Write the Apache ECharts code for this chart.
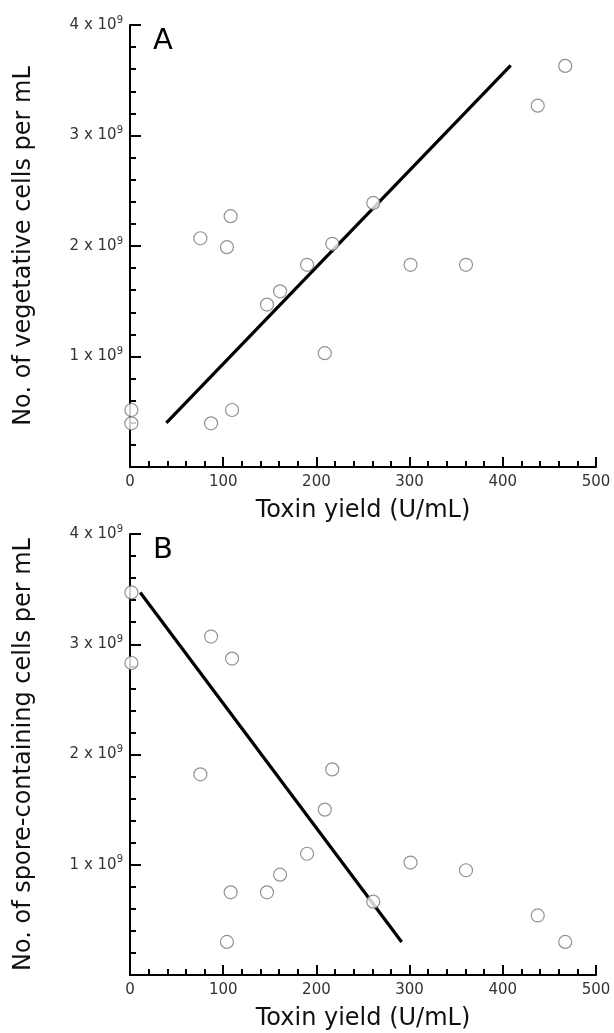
<!DOCTYPE html>
<html><head><meta charset="utf-8">
<script src="https://cdn.jsdelivr.net/npm/echarts@6/dist/echarts.min.js"></script>
<style>html,body{margin:0;padding:0;background:#fff}#c{width:614px;height:1033px}</style>
</head><body><div id="c"></div>
<script>
// Toxin yield (U/mL) per culture
const toxinYield = [1.5, 1.5, 75.5, 87, 104, 108, 109.5, 147, 161, 190, 209, 217, 261, 301, 360.5, 437.5, 467];
// Vegetative cells per mL (x 10^9)
const vegetativeCells = [0.516, 0.395, 2.07, 0.395, 1.99, 2.27, 0.516, 1.47, 1.59, 1.83, 1.03, 2.02, 2.39, 1.83, 1.83, 3.27, 3.63];
// Spore-containing cells per mL (x 10^9)
const sporeCells = [3.47, 2.83, 1.82, 3.07, 0.30, 0.75, 2.87, 0.75, 0.91, 1.10, 1.50, 1.865, 0.665, 1.02, 0.95, 0.54, 0.30];
// Regression lines (endpoints)
const fitA = [[39, 0.40], [408.5, 3.635]];
const fitB = [[11, 3.47], [291.5, 0.30]];
// Axis ticks
const xTickValues = [0, 100, 200, 300, 400, 500];
const xMinorStep = 20;
const yTickValues = [0, 1, 2, 3, 4]; // in units of 10^9; 0 unlabeled
const yMinorStep = 0.2;
const panelLetters = ['A', 'B'];
const yNames = ['No. of vegetative cells per mL', 'No. of spore-containing cells per mL'];
const xName = 'Toxin yield (U/mL)';

const FONT = 'DejaVu Sans';
const chart = echarts.init(document.getElementById('c'), null, {renderer: 'canvas'});

function pairs(ys) { return toxinYield.map((x, i) => [x, ys[i]]); }
const xMin = xTickValues[0], xMax = xTickValues[xTickValues.length - 1];
const yMin = yTickValues[0], yMax = yTickValues[yTickValues.length - 1];

function xAxis(idx) {
  return {
    type: 'value', gridIndex: idx, position: 'bottom', min: xMin, max: xMax,
    interval: xTickValues[1] - xTickValues[0],
    name: xName, nameLocation: 'middle', nameGap: 32,
    nameTextStyle: {fontFamily: FONT, fontSize: 24, color: '#111'},
    axisLine: {show: true, onZero: false, lineStyle: {color: '#000', width: 2}},
    axisTick: {show: true, inside: true, length: 10, lineStyle: {color: '#000', width: 2}},
    splitLine: {show: false},
    axisLabel: {fontFamily: FONT, fontSize: 15, color: '#333', margin: 8,
      formatter: v => xTickValues.includes(v) ? String(v) : ''}
  };
}
function xMinorAxis(idx) {
  return {
    type: 'value', gridIndex: idx, position: 'bottom', min: xMin, max: xMax, interval: xMinorStep,
    axisLine: {show: false, onZero: false},
    axisTick: {show: true, inside: true, length: 6, lineStyle: {color: '#000', width: 2}},
    axisLabel: {show: false}, splitLine: {show: false}
  };
}
function yAxis(idx) {
  return {
    type: 'value', gridIndex: idx, position: 'left', min: yMin, max: yMax,
    interval: yTickValues[1] - yTickValues[0],
    name: yNames[idx], nameLocation: 'middle', nameGap: 94,
    nameTextStyle: {fontFamily: FONT, fontSize: 24, color: '#111'},
    axisLine: {show: true, onZero: false, lineStyle: {color: '#000', width: 2}},
    axisTick: {show: true, inside: true, length: 11, lineStyle: {color: '#000', width: 2}},
    splitLine: {show: false},
    axisLabel: {
      margin: 7, color: '#333',
      formatter: v => (v === 0 || !yTickValues.includes(v)) ? '' : '{b|' + v + ' x 10}{s|9}',
      rich: {
        b: {fontFamily: FONT, fontSize: 15, color: '#333', lineHeight: 20},
        s: {fontFamily: FONT, fontSize: 10, color: '#333', verticalAlign: 'top', lineHeight: 20, padding: [0, 0, 9, 0]}
      }
    }
  };
}
function yMinorAxis(idx) {
  return {
    type: 'value', gridIndex: idx, position: 'left', min: yMin, max: yMax, interval: yMinorStep,
    axisLine: {show: false, onZero: false},
    axisTick: {show: true, inside: true, length: 6, lineStyle: {color: '#000', width: 2}},
    axisLabel: {show: false}, splitLine: {show: false}
  };
}
function scatter(idx, ys) {
  return {
    type: 'scatter', xAxisIndex: idx, yAxisIndex: idx, data: pairs(ys),
    symbol: 'circle', symbolSize: 13, z: 5,
    itemStyle: {color: '#fff', borderColor: '#777', borderWidth: 1.2}
  };
}
function fit(idx, pts) {
  return {
    type: 'line', xAxisIndex: idx, yAxisIndex: idx, data: pts, showSymbol: false, symbol: 'none',
    z: 4, lineStyle: {color: '#000', width: 3.2}
  };
}

chart.setOption({
  animation: false,
  backgroundColor: '#fff',
  grid: [
    {left: 130, top: 25, width: 466, height: 442},
    {left: 130, top: 534, width: 466, height: 441}
  ],
  xAxis: [xAxis(0), xAxis(1), xMinorAxis(0), xMinorAxis(1)],
  yAxis: [yAxis(0), yAxis(1), yMinorAxis(0), yMinorAxis(1)],
  graphic: [
    {type: 'text', left: 153, top: 27, style: {text: panelLetters[0], fontFamily: FONT, fontSize: 29, fill: '#000'}},
    {type: 'text', left: 153, top: 536, style: {text: panelLetters[1], fontFamily: FONT, fontSize: 29, fill: '#000'}}
  ],
  series: [fit(0, fitA), scatter(0, vegetativeCells), fit(1, fitB), scatter(1, sporeCells)]
});
</script></body></html>
